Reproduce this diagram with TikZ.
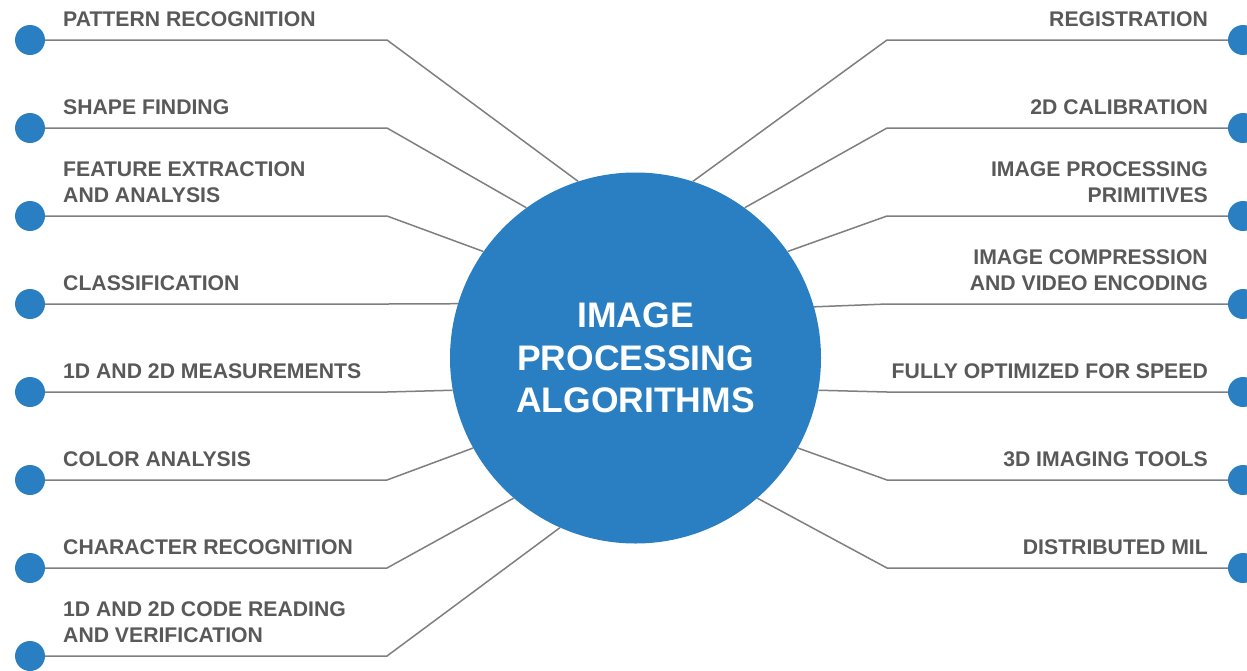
\documentclass[tikz,border=0pt]{standalone}
\usepackage{fontspec}
\setmainfont{Liberation Sans}
\definecolor{hubblue}{HTML}{2A7FC3}
\definecolor{linegray}{HTML}{7F7F7F}
\definecolor{labelgray}{HTML}{595959}
\begin{document}
\begin{tikzpicture}[x=1pt,y=-1pt,
  dot/.style={circle, fill=hubblue, minimum size=30pt, inner sep=0pt},
  link/.style={draw=linegray, line width=1.5pt},
  labelbase/.style={inner sep=0pt, text depth=0pt, text=labelgray,
    font=\bfseries\fontsize{21.2}{26}\selectfont},
  lefttext/.style={labelbase, anchor=south west, align=left},
  righttext/.style={labelbase, anchor=south east, align=right},
  hubstyle/.style={circle, fill=hubblue, minimum size=371pt, inner sep=0pt,
    text=white, align=center, font=\bfseries\fontsize{35.5}{42.5}\selectfont}]

% canvas
\fill[white] (0,0) rectangle (1247,670);
\useasboundingbox (0,0) rectangle (1247,670);

% central topic
\node[hubstyle] (hub) at (635.5,358) {IMAGE\\PROCESSING\\ALGORITHMS};

% left branches
\foreach \y/\a/\txt [count=\i] in {
  40/108/{PATTERN RECOGNITION},
  128/126/{SHAPE FINDING},
  216/145/{FEATURE EXTRACTION\\AND ANALYSIS},
  304/163.07/{CLASSIFICATION},
  392/190.56/{1D AND 2D MEASUREMENTS},
  480/209/{COLOR ANALYSIS},
  568/229/{CHARACTER RECOGNITION},
  656/246/{1D AND 2D CODE READING\\AND VERIFICATION}}
{
  \node[dot] (dL\i) at (30,\y) {};
  \coordinate (bL\i) at (387,\y);
  \node[lefttext] (tL\i) at (63,\y-13) {\txt};
  \draw[link] (dL\i) -- (bL\i) -- (hub.\a);
}

% right branches
\foreach \y/\a/\txt [count=\i] in {
  40/72/{REGISTRATION},
  128/54/{2D CALIBRATION},
  216/35/{IMAGE PROCESSING\\PRIMITIVES},
  304/16.93/{IMAGE COMPRESSION\\AND VIDEO ENCODING},
  392/-10.56/{FULLY OPTIMIZED FOR SPEED},
  480/-29/{3D IMAGING TOOLS},
  568/-49/{DISTRIBUTED MIL}}
{
  \node[dot] (dR\i) at (1243,\y) {};
  \coordinate (bR\i) at (887,\y);
  \node[righttext] (tR\i) at (1208,\y-13) {\txt};
  \draw[link] (dR\i) -- (bR\i) -- (hub.\a);
}
\end{tikzpicture}
\end{document}
